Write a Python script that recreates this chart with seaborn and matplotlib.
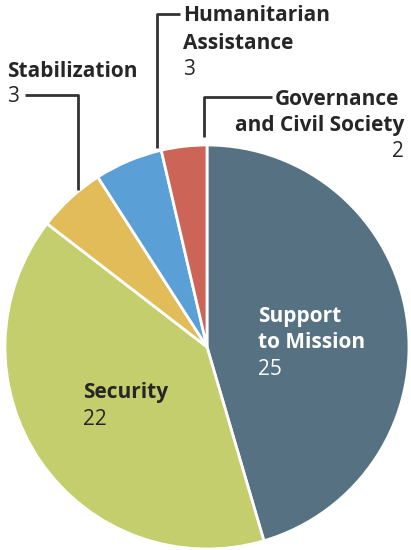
import matplotlib
matplotlib.use("Agg")
import matplotlib.pyplot as plt
import seaborn as sns

# Data
categories = ["Support\nto Mission", "Security", "Stabilization",
              "Humanitarian\nAssistance", "Governance\nand Civil Society"]
values = [25, 22, 3, 3, 2]
colors = sns.color_palette(["#567282", "#c5ce6c", "#e2bc58", "#5a9fd6", "#cc6457"])

sns.set_theme(style="white")
plt.rcParams['font.family'] = ['Open Sans', 'DejaVu Sans']

W, H = 411, 550
fig = plt.figure(figsize=(W / 100, H / 100), dpi=100)
ax = fig.add_axes([0, 0, 1, 1])

cx, cy, r = 207, 347, 202
ax.pie(values, colors=colors, startangle=90, counterclock=False,
       center=(cx, H - cy), radius=r,
       wedgeprops=dict(edgecolor="white", linewidth=2))
ax.set_xlim(0, W)
ax.set_ylim(0, H)
ax.set_aspect("equal")
ax.axis("off")

dark = "#262626"
fs = 15


def lbl(x, y, s, color=dark, bold=True, ha="left"):
    ax.text(x, H - y, s, color=color, fontsize=fs, ha=ha, va="baseline",
            fontweight="bold" if bold else "normal")


def leader(xs, ys):
    ax.plot(xs, [H - y for y in ys], color="#333333", lw=2, solid_capstyle="butt")


# Inside labels
sup = categories[0].split("\n")
lbl(258, 322, sup[0], color="white")
lbl(258, 348, sup[1], color="white")
lbl(258, 375, str(values[0]), color="white", bold=False)

lbl(83, 398, categories[1])
lbl(83, 425, str(values[1]), bold=False)

# Outside labels
lbl(7, 77, categories[2])
lbl(7, 102, str(values[2]), bold=False)
leader([25, 78, 78], [95, 95, 190])

hum = categories[3].split("\n")
lbl(183, 21, hum[0])
lbl(183, 49, hum[1])
lbl(183, 75, str(values[3]), bold=False)
leader([180, 157, 157], [14, 14, 148])

gov = categories[4].split("\n")
lbl(399, 105, gov[0], ha="right")
lbl(404, 131, gov[1], ha="right")
lbl(404, 157, str(values[4]), bold=False, ha="right")
leader([272, 204, 204], [97, 97, 137])

fig.savefig("out.png", dpi=100)
